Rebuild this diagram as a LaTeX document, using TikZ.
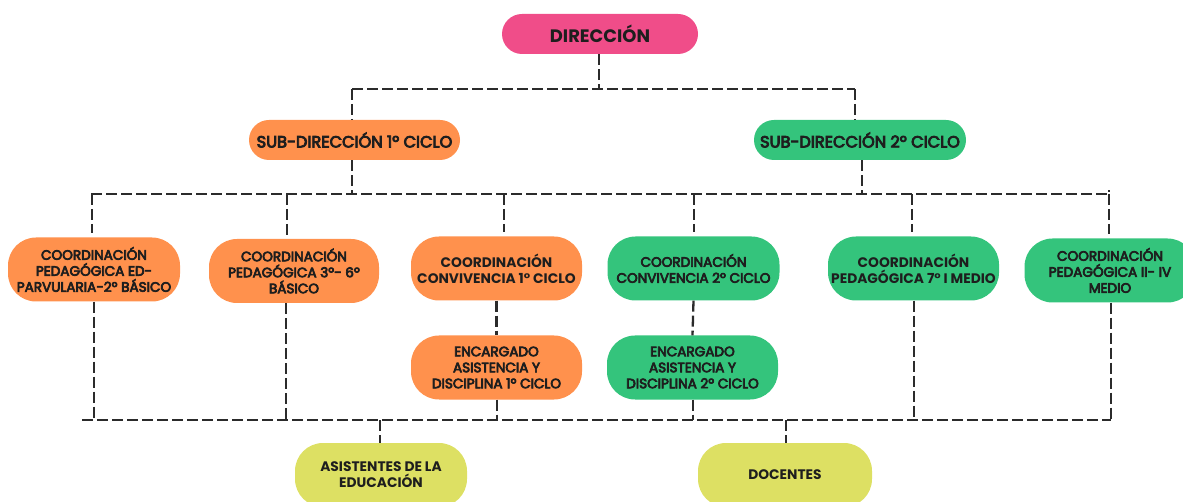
\documentclass[tikz,border=0pt]{standalone}
\usepackage{fontspec}
\setmainfont{Poppins}
\newfontfamily\medfont{Poppins}[FakeBold=5]
\definecolor{pinkc}{HTML}{F04D89}
\definecolor{orangec}{HTML}{FF914D}
\definecolor{greenc}{HTML}{34C47C}
\definecolor{yellowc}{HTML}{DDE063}
\definecolor{linec}{HTML}{2B2B2B}
\definecolor{textc}{HTML}{1E1E1E}
\begin{document}
\begin{tikzpicture}[x=1pt,y=-1pt,
  pill/.style={rounded corners=20pt, minimum height=40pt, inner sep=0pt, align=center, text=textc},
  box/.style={rounded corners=28pt, minimum height=64pt, inner sep=0pt, align=center, text=textc,
              font=\medfont\fontsize{13.6}{16}\selectfont},
  boldbox/.style={box, font=\bfseries\fontsize{13.8}{16}\selectfont},
  bus/.style={draw=linec, line width=2.3pt, dash pattern=on 11pt off 4pt}]
\useasboundingbox (0,0) rectangle (1183,502);

% nodes
\node[pill, fill=pinkc, minimum width=196pt, font=\bfseries\fontsize{18}{20}\selectfont] (dir) at (600,34) {DIRECCIÓN};
\node[pill, fill=orangec, minimum width=211pt, font=\medfont\fontsize{16.2}{18}\selectfont] (s1) at (354.5,140) {SUB-DIRECCIÓN 1º CICLO};
\node[pill, fill=greenc, minimum width=212pt, font=\medfont\fontsize{16.2}{18}\selectfont] (s2) at (860,140) {SUB-DIRECCIÓN 2º CICLO};

\node[box, fill=orangec, minimum width=172pt] (c1) at (94,269.5) {COORDINACIÓN\\PEDAGÓGICA ED-\\PARVULARIA-2º BÁSICO};
\node[box, fill=orangec, minimum width=170pt] (c2) at (294,271) {COORDINACIÓN\\PEDAGÓGICA 3º- 6º\\BÁSICO};
\node[boldbox, fill=orangec, minimum width=171pt] (c3) at (496.5,268.5) {COORDINACIÓN\\CONVIVENCIA 1° CICLO};
\node[box, fill=greenc, minimum width=172pt] (c4) at (693.5,268.5) {COORDINACIÓN\\CONVIVENCIA 2º CICLO};
\node[boldbox, fill=greenc, minimum width=171pt] (c5) at (913.5,268.5) {COORDINACIÓN\\PEDAGÓGICA 7° I MEDIO};
\node[box, fill=greenc, minimum width=171pt] (c6) at (1110,270.5) {COORDINACIÓN\\PEDAGÓGICA II- IV\\MEDIO};

\node[box, fill=orangec, minimum width=171pt] (e1) at (496.5,367.5) {ENCARGADO\\ASISTENCIA Y\\DISCIPLINA 1º CICLO};
\node[box, fill=greenc, minimum width=171pt] (e2) at (692.5,367.5) {ENCARGADO\\ASISTENCIA Y\\DISCIPLINA 2º CICLO};

\node[boldbox, fill=yellowc, minimum width=172pt] (asis) at (381,475) {ASISTENTES DE LA\\EDUCACIÓN};
\node[boldbox, fill=yellowc, minimum width=174pt] (doc) at (785,475) {DOCENTES};

% bus coordinates
\coordinate (b0) at (599,89);
\coordinate (b1) at (352,89);
\coordinate (b2) at (855,89);
\coordinate (t0) at (352,194);
\coordinate (t0b) at (862,194);
\coordinate (tL) at (91,194);
\coordinate (tR) at (1109,194);
\coordinate (t1) at (92,194);
\coordinate (t2) at (287,194);
\coordinate (t3) at (504,194);
\coordinate (t4) at (694,194);
\coordinate (t5) at (912,194);
\coordinate (t6) at (1109,194);
\coordinate (uL) at (82,420);
\coordinate (uR) at (1111,420);
\coordinate (u1) at (94,420);
\coordinate (u2) at (286,420);
\coordinate (u3) at (497,420);
\coordinate (u4) at (693,420);
\coordinate (u5) at (914,420);
\coordinate (u6) at (1111,420);
\coordinate (ua) at (380,420);
\coordinate (ud) at (786,420);

% connectors
\draw[bus] (dir.south -| b0) -- (b0);
\draw[bus] (b1) -- (b2);
\draw[bus] (b1) -- (b1 |- s1.north);
\draw[bus] (b2) -- (b2 |- s2.north);
\draw[bus] (t0 |- s1.south) -- (t0);
\draw[bus] (t0b |- s2.south) -- (t0b);
\draw[bus] (tL) -- (tR) -- ++(0,-4);
\foreach \t/\n in {t1/c1,t2/c2,t3/c3,t4/c4,t5/c5,t6/c6}
  \draw[bus] (\t) -- ([yshift=4pt]\t |- \n.north);
\draw[bus] (c3.south) -- (e1.north);
\draw[bus] (c4.south) -- (e2.north);
\foreach \u/\n in {u1/c1,u2/c2,u3/e1,u4/e2,u5/c5,u6/c6}
  \draw[bus] (\u |- \n.south) -- (\u);
\draw[bus] (uL) -- (uR);
\draw[bus] (ua) -- (ua |- asis.north);
\draw[bus] (ud) -- (ud |- doc.north);
\end{tikzpicture}
\end{document}
